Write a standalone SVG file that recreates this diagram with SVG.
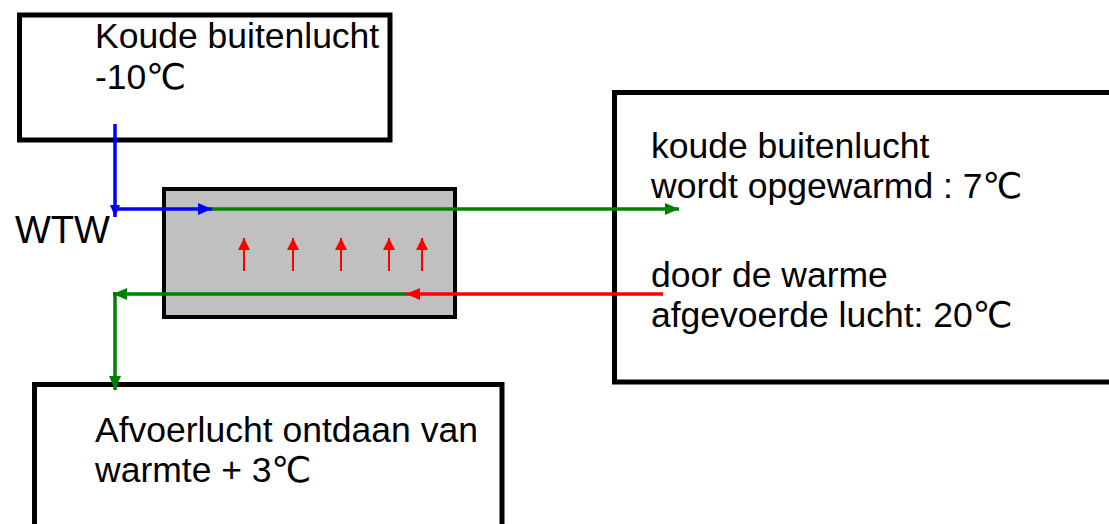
<svg xmlns="http://www.w3.org/2000/svg" width="1109" height="524" viewBox="0 0 1109 524">
<style>
.box{fill:#fff;stroke:#000;stroke-width:5}
.hx{fill:#c0c0c0;stroke:#000;stroke-width:4}
.t{font-family:"Liberation Sans",Arial,"DejaVu Sans",sans-serif;font-size:35.5px;fill:#000}
.blue{stroke:#0000ff;stroke-width:3.5;fill:none}
.green{stroke:#008000;stroke-width:3.5;fill:none}
.red{stroke:#ff0000;stroke-width:3.5;fill:none}
.redthin{stroke:#ff0000;stroke-width:2;fill:none}
</style>
<defs>
<marker id="ab" markerUnits="userSpaceOnUse" markerWidth="16" markerHeight="14" refX="14" refY="6" orient="auto"><path d="M0,0 L14,6 L0,12 z" fill="#0000ff"/></marker>
<marker id="abs" markerUnits="userSpaceOnUse" markerWidth="14" markerHeight="12" refX="12" refY="5" orient="auto"><path d="M0,0 L12,5 L0,10 z" fill="#0000ff"/></marker>
<marker id="ag" markerUnits="userSpaceOnUse" markerWidth="16" markerHeight="14" refX="14" refY="6" orient="auto"><path d="M0,0 L14,6 L0,12 z" fill="#008000"/></marker>
<marker id="ar" markerUnits="userSpaceOnUse" markerWidth="16" markerHeight="14" refX="14" refY="6" orient="auto"><path d="M0,0 L14,6 L0,12 z" fill="#ff0000"/></marker>
<marker id="ars" markerUnits="userSpaceOnUse" markerWidth="14" markerHeight="12" refX="12" refY="6" orient="auto"><path d="M0,0 L12,6 L0,12 z" fill="#ff0000"/></marker>
</defs>
<g id="node-buitenlucht">
<rect class="box" x="19.5" y="15" width="370.5" height="125"/>
<text class="t" x="95" y="48">Koude buitenlucht</text>
<text class="t" x="95" y="89">-10℃</text>
</g>
<g id="node-opgewarmd">
<rect class="box" x="614.5" y="92.5" width="500" height="289.5"/>
<text class="t" x="651" y="158">koude buitenlucht</text>
<text class="t" x="651" y="198">wordt opgewarmd : 7℃</text>
<text class="t" x="651" y="287">door de warme</text>
<text class="t" x="651" y="327">afgevoerde lucht: 20℃</text>
</g>
<g id="node-afvoer">
<rect class="box" x="34.5" y="384.5" width="467.5" height="150"/>
<text class="t" x="95" y="442">Afvoerlucht ontdaan van</text>
<text class="t" x="95" y="482">warmte + 3℃</text>
</g>
<g id="node-wtw">
<rect class="hx" x="164" y="189" width="291" height="128"/>
<text class="t" x="15" y="243" style="font-size:38px">WTW</text>
</g>
<g id="connectors">
<path class="blue" d="M115,124 L115,217" marker-end="url(#abs)"/>
<path class="blue" d="M113,209 L212,209" marker-end="url(#ab)"/>
<path class="green" d="M212,209 L679,209" marker-end="url(#ag)"/>
<path class="red" d="M663,294 L406,294" marker-end="url(#ar)"/>
<path class="green" d="M406,294 L113,294" marker-end="url(#ag)"/>
<path class="green" d="M115,292 L115,390" marker-end="url(#ag)"/>
<path class="redthin" d="M244,271 L244,238" marker-end="url(#ars)"/>
<path class="redthin" d="M293,271 L293,238" marker-end="url(#ars)"/>
<path class="redthin" d="M341,271 L341,238" marker-end="url(#ars)"/>
<path class="redthin" d="M389,271 L389,238" marker-end="url(#ars)"/>
<path class="redthin" d="M422,271 L422,238" marker-end="url(#ars)"/>
</g>
</svg>
